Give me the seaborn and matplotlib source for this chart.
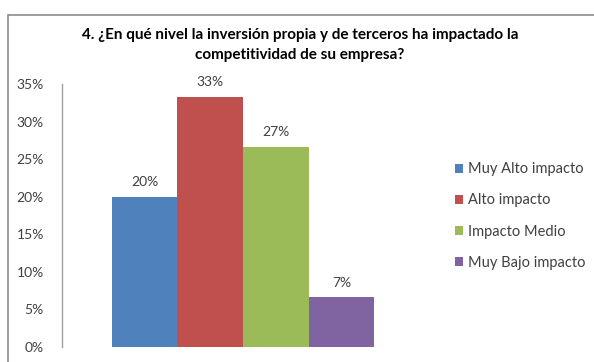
import matplotlib
matplotlib.use("Agg")
import matplotlib.pyplot as plt
import seaborn as sns
import pandas as pd
from matplotlib.patches import Rectangle
from matplotlib.ticker import FuncFormatter

categories = ["Muy Alto impacto", "Alto impacto", "Impacto Medio", "Muy Bajo impacto"]
values = [0.20, 0.3333, 0.2667, 0.0667]
labels = ["20%", "33%", "27%", "7%"]
colors = ["#4F81BD", "#C0504D", "#9BBB59", "#8064A2"]
yticks = [0, 0.05, 0.10, 0.15, 0.20, 0.25, 0.30, 0.35]

sns.set_style("white")
plt.rcParams["font.family"] = ["Lato", "DejaVu Sans"]

df = pd.DataFrame({"grp": ["g"] * 4, "cat": categories, "val": values})

W, H = 594, 362
fig = plt.figure(figsize=(W / 100, H / 100), dpi=100)
ax = fig.add_axes([62 / W, 1 - 347 / H, (424 - 62) / W, (347 - 84) / H])

sns.barplot(data=df, x="grp", y="val", hue="cat", hue_order=categories,
            palette=colors, width=0.725, ax=ax, legend=True, saturation=1,
            linewidth=0, edgecolor="none")

ax.set_ylim(0, 0.35)
ax.set_xlim(-0.5, 0.5)
ax.set_yticks(yticks)
ax.yaxis.set_major_formatter(FuncFormatter(lambda v, p: f"{v*100:.0f}%"))
ax.tick_params(axis="y", labelsize=10, colors="#404040", length=0, pad=13)
ax.set_xticks([])
ax.set_xlabel("")
ax.set_ylabel("")
for s in ["top", "right", "bottom"]:
    ax.spines[s].set_visible(False)
ax.spines["left"].set_color("#A0A0A0")
ax.spines["left"].set_linewidth(1.0)

for cont, lab in zip(ax.containers, labels):
    ax.bar_label(cont, labels=[lab], padding=6, fontsize=10, color="#404040")

handles, labs = ax.get_legend_handles_labels()
ax.legend(handles, labs, loc="center left", bbox_to_anchor=(442 / W, 1 - 216 / H),
          bbox_transform=fig.transFigure, frameon=False, fontsize=10.5,
          handlelength=0.55, handleheight=0.55, handletextpad=0.35,
          labelspacing=1.17, labelcolor="#404040")

fig.text(0.505, 1 - 45 / H,
         "4. ¿En qué nivel la inversión propia y de terceros ha impactado la\ncompetitividad de su empresa?",
         ha="center", va="center", fontsize=11, fontweight="bold", color="#000000",
         linespacing=1.5)

fig.patches.append(Rectangle((7.5 / W, -0.1), 1.2, 1 - 14.5 / H + 0.1,
                             transform=fig.transFigure, fill=False,
                             edgecolor="#8C8C8C", linewidth=1.2))

fig.savefig("out.png", dpi=100)
